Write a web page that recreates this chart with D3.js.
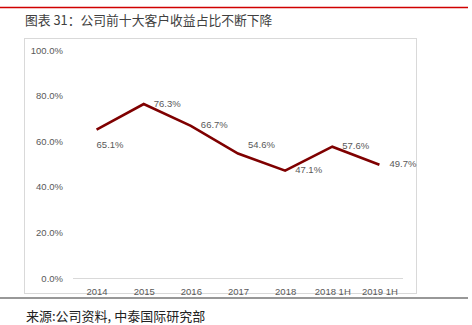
<!DOCTYPE html>
<html><head><meta charset="utf-8">
<script src="https://cdn.jsdelivr.net/npm/d3@7"></script>
<style>body{margin:0;background:#fff}</style>
</head><body>
<svg id="c" width="472" height="325"></svg>
<script>
const categories = ["2014","2015","2016","2017","2018","2018 1H","2019 1H"];
const values = [65.1, 76.3, 66.7, 54.6, 47.1, 57.6, 49.7];
const yTicks = [0, 20, 40, 60, 80, 100];
const labelPos = ["below","right","right","aboveRight","right","right","right"];

const svg = d3.select("#c");
const font = "'Liberation Sans','DejaVu Sans',sans-serif";
const cjk = "'Noto Sans CJK SC',sans-serif";

// top red rule
svg.append("line").attr("x1",0).attr("x2",468).attr("y1",7.5).attr("y2",7.5)
  .attr("stroke","#d00000").attr("stroke-width",1.5);
svg.append("text").attr("x",25).attr("y",24.5).attr("font-family",cjk).attr("font-size",12.8)
  .attr("fill","#404040").text("图表 31：公司前十大客户收益占比不断下降");

// chart box
svg.append("rect").attr("x",24.5).attr("y",38.5).attr("width",392).attr("height",255)
  .attr("fill","none").attr("stroke","#d9d9d9");

const x = d3.scalePoint().domain(categories).range([73,403]).padding(0.5);
const y = d3.scaleLinear().domain([0,100]).range([278,50]);

const yAxis = svg.append("g").attr("transform","translate(73,0)")
  .call(d3.axisLeft(y).tickValues(yTicks).tickSize(0).tickPadding(10).tickFormat(d=>d.toFixed(1)+"%"));
yAxis.select(".domain").remove();
yAxis.selectAll("text").attr("font-family",font).attr("font-size",9.5).attr("fill","#595959");

const xAxis = svg.append("g").attr("transform","translate(0,278)")
  .call(d3.axisBottom(x).tickSize(0).tickPadding(10));
xAxis.select(".domain").attr("stroke","#d9d9d9").attr("d","M73,0.5H403");
xAxis.selectAll("text").attr("font-family",font).attr("font-size",9.5).attr("fill","#595959");

const line = d3.line().x((d,i)=>x(categories[i])).y(d=>y(d));
svg.append("path").datum(values).attr("d",line).attr("fill","none")
  .attr("stroke","#7f0000").attr("stroke-width",2.6).attr("stroke-linejoin","miter");

svg.selectAll(".lbl").data(values).enter().append("text")
  .attr("font-family",font).attr("font-size",9.5).attr("fill","#595959")
  .attr("dominant-baseline","middle")
  .attr("x",(d,i)=>{const px=x(categories[i]); return labelPos[i]==="below"?px:px+10;})
  .attr("y",(d,i)=>{const py=y(d); if(labelPos[i]==="below")return py+16; if(labelPos[i]==="aboveRight")return py-8; return py;})
  .text(d=>d.toFixed(1)+"%");

// bottom rule & source
svg.append("line").attr("x1",0).attr("x2",468).attr("y1",298).attr("y2",298)
  .attr("stroke","#333").attr("stroke-width",1.2);
svg.append("text").attr("x",26).attr("y",321).attr("font-family",cjk).attr("font-size",13)
  .attr("fill","#222").text("来源:公司资料, 中泰国际研究部");
</script>
</body></html>
